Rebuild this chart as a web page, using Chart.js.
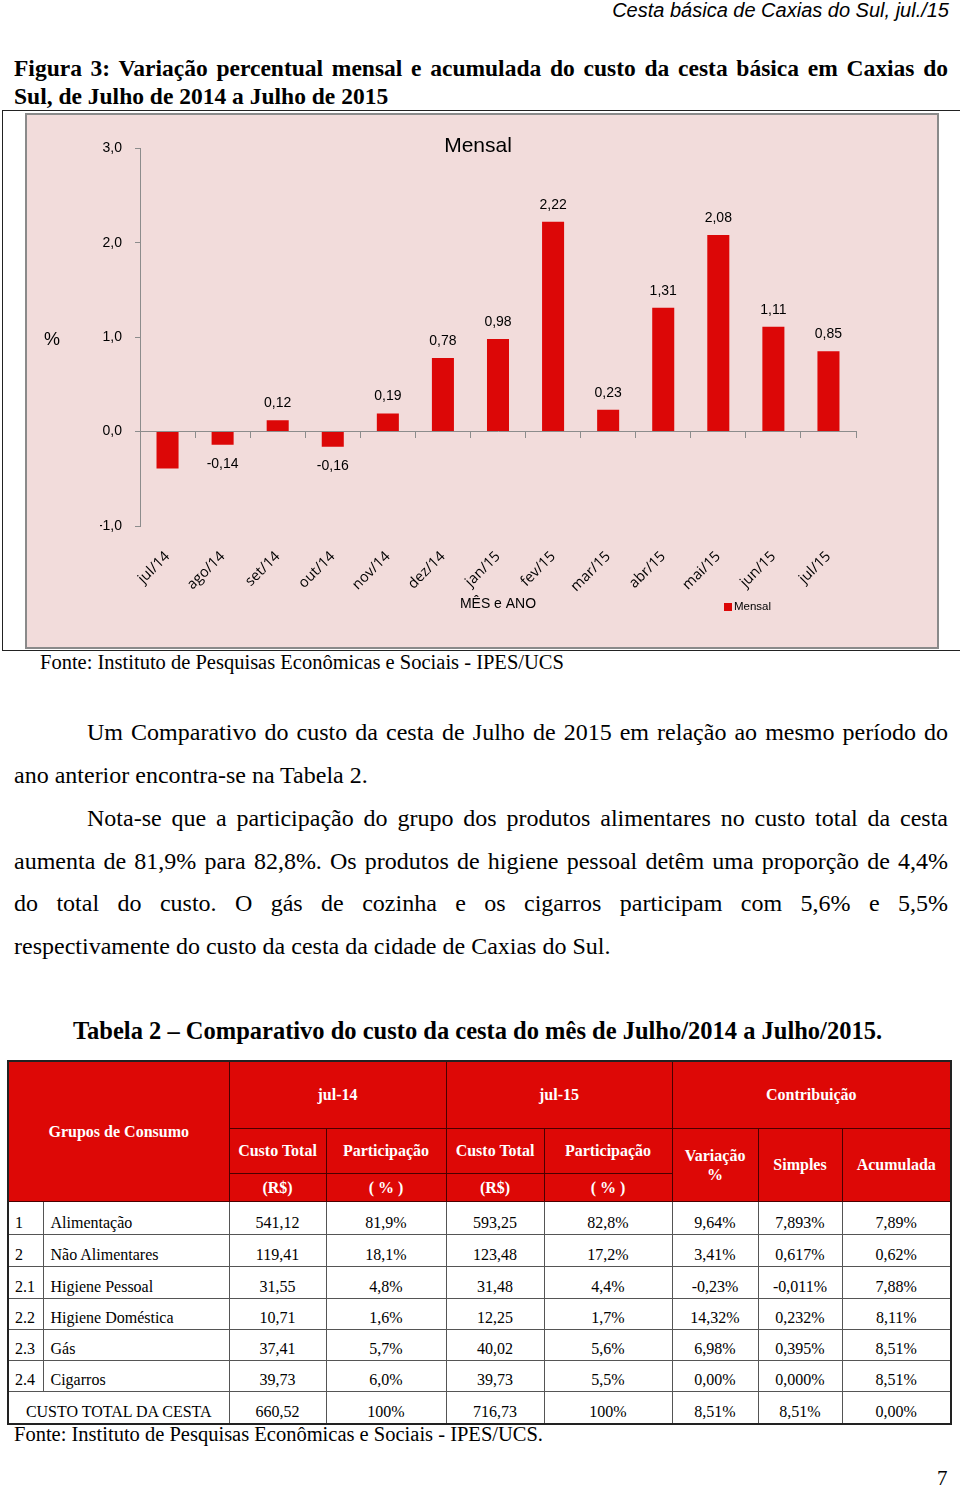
<!DOCTYPE html>
<html><head><meta charset="utf-8">
<script src="https://cdn.jsdelivr.net/npm/chart.js@4.4.1/dist/chart.umd.min.js"></script>
<style>
html,body{margin:0;padding:0;background:#fff;}
body{width:960px;height:1490px;position:relative;overflow:hidden;font-family:"Liberation Serif","Times New Roman",serif;color:#000;}
.abs{position:absolute;white-space:nowrap;}
#hdr{right:11px;top:-2px;font-family:"Liberation Sans Narrow","Liberation Sans",Arial,sans-serif;font-style:italic;font-size:20px;line-height:24px;}
.line{position:absolute;left:14px;width:934px;}
.just{text-align:justify;text-align-last:justify;}
.figt{font-weight:bold;font-size:23.5px;line-height:28px;}
.par{font-size:24px;line-height:43px;}
#frame{position:absolute;left:2px;top:110px;width:980px;height:539px;border:1px solid #222;}
#panel{position:absolute;left:25px;top:113px;width:910px;height:532px;border:2px solid #8a8a8a;background:#f2dcdb;}
#panel canvas{position:absolute;left:0;top:0;}
#pct{position:absolute;left:44px;top:329px;font-family:"Liberation Sans",Arial,sans-serif;font-size:18px;}
#tbl{position:absolute;left:7px;top:1060px;border-collapse:collapse;table-layout:fixed;width:943px;border:2px solid #222;}
#tbl th{background:#dd0806;color:#fff;font-weight:bold;font-size:16px;border:1px solid #4a0000;padding:0;line-height:19px;}
#tbl td{font-size:16px;border:1px solid #555;padding:0 0 2px 0;vertical-align:bottom;text-align:center;line-height:18px;}
#tbl td.n{text-align:left;padding-left:6px;}
#tbl td.g{text-align:left;padding-left:7px;}
</style>
</head><body>
<div id="hdr" class="abs">Cesta básica de Caxias do Sul, jul./15</div>
<div class="line figt just" style="top:54px;">Figura 3: Variação percentual mensal e acumulada do custo da cesta básica em Caxias do</div>
<div class="line figt" style="top:82px;">Sul, de Julho de 2014 a Julho de 2015</div>

<div id="frame"></div>
<div id="panel"><canvas id="c" width="910" height="532"></canvas></div>
<div id="pct">%</div>
<div class="abs" style="left:40px;top:650px;font-size:20.5px;line-height:25px;">Fonte: Instituto de Pesquisas Econômicas e Sociais - IPES/UCS</div>

<div class="line par just" style="top:711px;left:87px;width:861px;">Um Comparativo do custo da cesta de Julho de 2015 em relação ao mesmo período do</div>
<div class="line par" style="top:754px;">ano anterior encontra-se na Tabela 2.</div>
<div class="line par just" style="top:797px;left:87px;width:861px;">Nota-se que a participação do grupo dos produtos alimentares no custo total da cesta</div>
<div class="line par just" style="top:840px;">aumenta de 81,9% para 82,8%. Os produtos de higiene pessoal detêm uma proporção de 4,4%</div>
<div class="line par just" style="top:882px;">do total do custo. O gás de cozinha e os cigarros participam com 5,6% e 5,5%</div>
<div class="line par" style="top:925px;">respectivamente do custo da cesta da cidade de Caxias do Sul.</div>

<div class="abs" style="left:73px;top:1016px;font-size:24.5px;line-height:29px;font-weight:bold;">Tabela 2 – Comparativo do custo da cesta do mês de Julho/2014 a Julho/2015.</div>

<table id="tbl">
<colgroup><col style="width:35px"><col style="width:186px"><col style="width:97px"><col style="width:120px"><col style="width:98px"><col style="width:128px"><col style="width:86px"><col style="width:84px"><col style="width:109px"></colgroup>
<thead>
<tr style="height:67px"><th rowspan="3" colspan="2">Grupos de Consumo</th><th colspan="2">jul-14</th><th colspan="2">jul-15</th><th colspan="3">Contribuição</th></tr>
<tr style="height:45px"><th>Custo Total</th><th>Participação</th><th>Custo Total</th><th>Participação</th><th rowspan="2">Variação<br>%</th><th rowspan="2">Simples</th><th rowspan="2">Acumulada</th></tr>
<tr style="height:28px"><th>(R$)</th><th>( % )</th><th>(R$)</th><th>( % )</th></tr>
</thead>
<tbody id="tb"></tbody>
</table>

<div class="abs" style="left:14px;top:1422px;font-size:20.5px;line-height:25px;">Fonte: Instituto de Pesquisas Econômicas e Sociais - IPES/UCS.</div>
<div class="abs" style="left:937px;top:1465px;font-size:21px;line-height:26px;">7</div>

<script>
// ---- Chart data ----
const categories = ['jul/14','ago/14','set/14','out/14','nov/14','dez/14','jan/15','fev/15','mar/15','abr/15','mai/15','jun/15','jul/15'];
const mensal = [-0.39,-0.14,0.12,-0.16,0.19,0.78,0.98,2.22,0.23,1.31,2.08,1.11,0.85];
const showValueLabel = [false,true,true,true,true,true,true,true,true,true,true,true,true];
const seriesName = 'Mensal';
const chartTitle = 'Mensal';
const xAxisTitle = 'MÊS e ANO';
const yMin = -1, yMax = 3, yStep = 1;

// ---- Table data ----
const tableRows = [
  ['1','Alimentação','541,12','81,9%','593,25','82,8%','9,64%','7,893%','7,89%'],
  ['2','Não Alimentares','119,41','18,1%','123,48','17,2%','3,41%','0,617%','0,62%'],
  ['2.1','Higiene Pessoal','31,55','4,8%','31,48','4,4%','-0,23%','-0,011%','7,88%'],
  ['2.2','Higiene Doméstica','10,71','1,6%','12,25','1,7%','14,32%','0,232%','8,11%'],
  ['2.3','Gás','37,41','5,7%','40,02','5,6%','6,98%','0,395%','8,51%'],
  ['2.4','Cigarros','39,73','6,0%','39,73','5,5%','0,00%','0,000%','8,51%']
];
const totalRow = ['CUSTO TOTAL DA CESTA','660,52','100%','716,73','100%','8,51%','8,51%','0,00%'];
const rowHeights = [33,32,32,31,31,31,33];

const tb = document.getElementById('tb');
tableRows.forEach((r,i)=>{
  const tr = document.createElement('tr');
  tr.style.height = rowHeights[i]+'px';
  r.forEach((v,j)=>{
    const td = document.createElement('td');
    td.textContent = v;
    if(j===0) td.className='n';
    if(j===1) td.className='g';
    tr.appendChild(td);
  });
  tb.appendChild(tr);
});
{
  const tr = document.createElement('tr');
  tr.style.height = rowHeights[6]+'px';
  totalRow.forEach((v,j)=>{
    const td = document.createElement('td');
    td.textContent = v;
    if(j===0) td.colSpan = 2;
    tr.appendChild(td);
  });
  tb.appendChild(tr);
}

const fmt = v => v.toFixed(2).replace('.', ',');
const barColor = '#dc0707';
const axisGray = '#8c8c8c';

const valueLabels = {
  id:'valueLabels',
  afterDatasetsDraw(chart){
    const ctx = chart.ctx;
    const meta = chart.getDatasetMeta(0);
    ctx.save();
    ctx.font = '14px "Liberation Sans", Arial, sans-serif';
    ctx.fillStyle = '#000';
    ctx.textAlign = 'center';
    ctx.textBaseline = 'middle';
    meta.data.forEach((bar,i)=>{
      if(!showValueLabel[i]) return;
      const v = chart.data.datasets[0].data[i];
      const y = v >= 0 ? bar.y - 17 : bar.y + 19;
      ctx.fillText(fmt(v), bar.x, y);
    });
    ctx.restore();
  }
};

const customLegend = {
  id:'customLegend',
  afterDraw(chart){
    const ctx = chart.ctx;
    const ds = chart.data.datasets[0];
    ctx.save();
    ctx.fillStyle = ds.backgroundColor;
    ctx.fillRect(697, 488, 8, 8);
    ctx.fillStyle = '#000';
    ctx.font = '11.5px "Liberation Sans", Arial, sans-serif';
    ctx.textAlign = 'left';
    ctx.textBaseline = 'middle';
    ctx.fillText(ds.label, 707, 492);
    ctx.restore();
  }
};

new Chart(document.getElementById('c'), {
  type:'bar',
  data:{
    labels: categories,
    datasets:[{label: seriesName, data: mensal, backgroundColor: barColor, borderWidth:0, barPercentage:0.4, categoryPercentage:1}]
  },
  options:{
    responsive:false,
    animation:false,
    layout:{padding:{left:73,right:81,top:0,bottom:0}},
    plugins:{
      legend:{display:false},
      tooltip:{enabled:false},
      title:{display:true,text:chartTitle,color:'#000',font:{family:'"Liberation Sans", Arial, sans-serif',size:21,weight:'normal',lineHeight:0.2},padding:{top:29,bottom:0}}
    },
    scales:{
      x:{
        position:'bottom',
        grid:{display:false,drawTicks:false},
        border:{display:false},
        ticks:{autoSkip:false,minRotation:45,maxRotation:45,padding:22,color:'#000',font:{family:'"Open Sans", sans-serif',size:14.5}},
        title:{display:true,text:xAxisTitle,color:'#000',font:{family:'"Liberation Sans", Arial, sans-serif',size:14},padding:{top:0,bottom:34}},
        afterFit:s=>{s.height=121;}
      },
      x0:{
        type:'category', axis:'x', position:{y:0}, offset:true,
        grid:{offset:true,drawOnChartArea:false,tickLength:6,color:axisGray},
        border:{color:axisGray},
        ticks:{display:false}
      },
      y:{
        min:yMin,max:yMax,
        ticks:{stepSize:yStep,padding:13,color:'#000',font:{family:'"Liberation Sans", Arial, sans-serif',size:14},callback:v=>v.toFixed(1).replace('.',',')},
        grid:{drawOnChartArea:false,tickLength:5,color:axisGray},
        border:{color:axisGray},
        afterFit:s=>{s.width=40;}
      }
    }
  },
  plugins:[valueLabels, customLegend]
});
</script>
</body></html>
